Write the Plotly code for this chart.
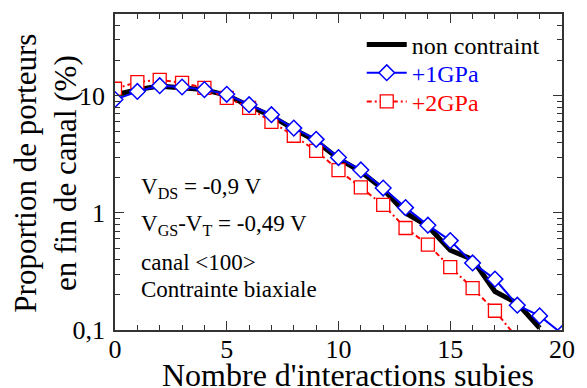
import plotly.graph_objects as go

# ---- data ----
x_vals = list(range(0, 21))
non_contraint = [10.2, 11.3, 12.1, 11.8, 11.3, 10.1, 8.3, 6.7, 5.2, 4.1, 2.9,
                 2.26, 1.59, 1.0, 0.77, 0.48, 0.40, 0.213, 0.169, 0.104]
gpa1 = [9.3, 10.9, 12.2, 11.9, 11.3, 10.3, 8.4, 6.9, 5.3, 4.25, 2.97,
        2.33, 1.63, 1.11, 0.786, 0.58, 0.374, 0.272, 0.163, 0.132, 0.093]
gpa2 = [11.5, 13.1, 13.7, 12.9, 11.7, 9.6, 7.9, 6.0, 4.56, 3.39, 2.32,
        1.65, 1.17, 0.743, 0.537, 0.345, 0.228, 0.146, 0.085]

y_tickvals = [0.1, 1, 10]
y_ticktext = ["0,1", "1", "10"]
x_tickvals = [0, 5, 10, 15, 20]

FONT = "Liberation Serif, Times New Roman, serif"

fig = go.Figure()
fig.add_trace(go.Scatter(
    x=x_vals[:len(non_contraint)], y=non_contraint, mode="lines",
    name="non contraint", line=dict(color="black", width=5),
    legend="legend"))
fig.add_trace(go.Scatter(
    x=x_vals[:len(gpa2)], y=gpa2, mode="lines+markers",
    name='<span style="color:#ff0000">+2GPa</span>',
    line=dict(color="#ff0000", width=2, dash="5px,3px,2px,3px"),
    marker=dict(symbol="square", size=13, color="white",
                line=dict(color="#ff0000", width=1.3)),
    legend="legend3"))
fig.add_trace(go.Scatter(
    x=x_vals[:len(gpa1)], y=gpa1, mode="lines+markers",
    name='<span style="color:#0000ff">+1GPa</span>',
    line=dict(color="#0000ff", width=2),
    marker=dict(symbol="diamond", size=12, color="white",
                line=dict(color="#0000ff", width=1.5)),
    legend="legend2"))

axis_common = dict(showline=True, linecolor="#333333", linewidth=1.5,
                   mirror="ticks", ticks="inside", tickcolor="#333333",
                   tickwidth=1.2, showgrid=False, zeroline=False,
                   tickfont=dict(family=FONT, size=26, color="black"))

fig.update_xaxes(range=[0, 20], tickmode="array", tickvals=x_tickvals,
                 ticklen=9, ticklabelstandoff=-5,
                 minor=dict(ticks="inside", dtick=1, ticklen=5,
                            tickcolor="#333333", showgrid=False),
                 **axis_common)
fig.update_yaxes(type="log", range=[-1, 1.69897], tickmode="array",
                 tickvals=y_tickvals, ticktext=y_ticktext, ticklen=9,
                 ticklabelstandoff=3,
                 minor=dict(ticks="inside", dtick="D1", ticklen=5,
                            tickcolor="#333333", showgrid=False),
                 **axis_common)

annotations = [
    dict(text="Nombre d'interactions subies", x=0.522, y=-0.142, xref="paper",
         yref="paper", xanchor="center", yanchor="middle", showarrow=False,
         font=dict(family=FONT, size=32, color="black")),
    dict(text="Proportion de porteurs<br>en fin de canal (%)", x=-0.155,
         y=0.497, xref="paper", yref="paper", xanchor="center",
         yanchor="middle", textangle=-90, showarrow=False,
         font=dict(family=FONT, size=31, color="black")),
]
info_lines = ["V<sub>DS</sub> = -0,9 V",
              "V<sub>GS</sub>-V<sub>T</sub> = -0,49 V",
              "canal &lt;100&gt;",
              "Contrainte biaxiale"]
info_y = [0.448, 0.333, 0.215, 0.127]
for t, yy in zip(info_lines, info_y):
    annotations.append(dict(text=t, x=0.054, y=yy, xref="paper", yref="paper",
                            xanchor="left", yanchor="middle", showarrow=False,
                            font=dict(family=FONT, size=23, color="black")))

leg_common = dict(x=0.552, xanchor="left", yanchor="middle",
                  bgcolor="rgba(0,0,0,0)", borderwidth=0,
                  font=dict(family=FONT, size=24, color="black"),
                  itemwidth=40)

fig.update_layout(
    width=587, height=388,
    margin=dict(l=115, r=12, t=14, b=58),
    paper_bgcolor="white", plot_bgcolor="white",
    font=dict(family=FONT, color="black"),
    showlegend=True,
    legend=dict(y=0.902, **leg_common),
    legend2=dict(y=0.813, **leg_common),
    legend3=dict(y=0.722, **leg_common),
    annotations=annotations,
)

fig.write_html("out.html",
               config={"displayModeBar": False},
               post_script="document.body.style.margin='0';"
                           "document.body.style.padding='0';")
